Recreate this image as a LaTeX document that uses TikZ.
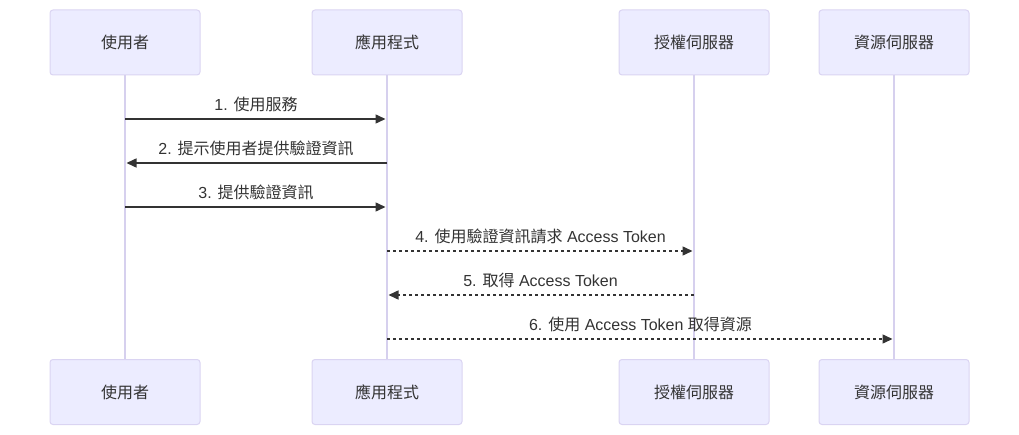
\documentclass[tikz,border=0pt]{standalone}
\usepackage{fontspec}
\setmainfont{Liberation Sans}
\newfontfamily\cjk{Noto Sans CJK TC}
\usetikzlibrary{arrows.meta}
\definecolor{boxfill}{HTML}{ECECFF}
\definecolor{boxline}{HTML}{DAD4F2}
\definecolor{life}{HTML}{D6D0EE}
\definecolor{ink}{HTML}{333333}
\tikzset{
  actor/.style={draw=boxline, fill=boxfill, rounded corners=3pt, line width=1pt,
    minimum width=150pt, minimum height=65pt, inner sep=0pt, text=ink,
    font=\fontsize{16pt}{19pt}\selectfont\cjk},
  lifeline/.style={draw=life, line width=1.5pt},
  msg/.style={draw=ink, line width=1.5pt, shorten >=1.5pt, -{Triangle[length=10pt,width=9pt]}},
  dmsg/.style={msg, dash pattern=on 3pt off 3pt},
  lbl/.style={text=ink, font=\fontsize{16pt}{19pt}\selectfont, inner sep=0pt}
}
\begin{document}
\begin{tikzpicture}[x=1pt,y=-1pt]
\useasboundingbox (0,0) rectangle (1019,435);
\node[actor] (u)  at (125,42.5) {使用者};
\node[actor] (a)  at (387,42.5) {應用程式};
\node[actor] (as) at (694,42.5) {授權伺服器};
\node[actor] (rs) at (894,42.5) {資源伺服器};
\node[actor] (u2)  at (125,392) {使用者};
\node[actor] (a2)  at (387,392) {應用程式};
\node[actor] (as2) at (694,392) {授權伺服器};
\node[actor] (rs2) at (894,392) {資源伺服器};
\draw[lifeline] (u) -- (u2);
\draw[lifeline] (a) -- (a2);
\draw[lifeline] (as) -- (as2);
\draw[lifeline] (rs) -- (rs2);
\coordinate (y1) at (0,119);
\coordinate (y2) at (0,163);
\coordinate (y3) at (0,207);
\coordinate (y4) at (0,251);
\coordinate (y5) at (0,295);
\coordinate (y6) at (0,339);
\draw[msg] (u |- y1) -- (a |- y1);
\draw[msg] (a |- y2) -- (u |- y2);
\draw[msg] (u |- y3) -- (a |- y3);
\draw[dmsg] (a |- y4) -- (as |- y4);
\draw[dmsg] (as |- y5) -- (a |- y5);
\draw[dmsg] (a |- y6) -- (rs |- y6);
\node[lbl] (l1) at (256,104) {1. {\cjk 使用服務}};
\node[lbl] (l2) at (256,148) {2. {\cjk 提示使用者提供驗證資訊}};
\node[lbl] (l3) at (256,192) {3. {\cjk 提供驗證資訊}};
\node[lbl] (l4) at (540.5,236) {4. {\cjk 使用驗證資訊請求} Access Token};
\node[lbl] (l5) at (540.5,280) {5. {\cjk 取得} Access Token};
\node[lbl] (l6) at (640.5,324) {6. {\cjk 使用} Access Token {\cjk 取得資源}};
\end{tikzpicture}
\end{document}
